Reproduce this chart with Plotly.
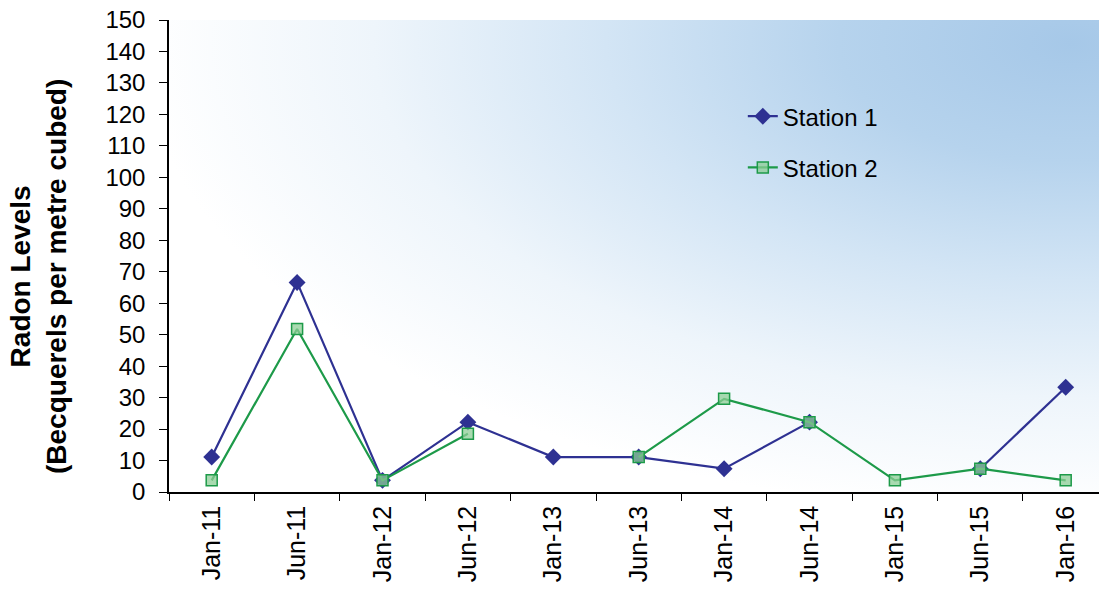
import plotly.graph_objects as go

# Sampling dates and radon readings (Bq/m³) for the two monitoring stations
dates = ["Jan-11", "Jun-11", "Jan-12", "Jun-12", "Jan-13", "Jun-13",
         "Jan-14", "Jun-14", "Jan-15", "Jun-15", "Jan-16"]
station_1 = [11.1, 66.6, 3.7, 22.2, 11.1, 11.1, 7.4, 22.2, None, 7.4, 33.3]
station_2 = [3.7, 51.8, 3.7, 18.5, None, 11.1, 29.6, 22.2, 3.7, 7.4, 3.7]
y_ticks = list(range(0, 151, 10))

FONT = "Arial, Liberation Sans, sans-serif"

# Soft blue glow spreading from the upper-right corner of the plotting area
bg_svg = (
    "data:image/svg+xml;utf8,"
    "<svg xmlns='http://www.w3.org/2000/svg' width='930' height='472' "
    "viewBox='0 0 930 472' preserveAspectRatio='none'>"
    "<defs><radialGradient id='g' cx='0.97' cy='0.05' r='1.0' fx='0.97' fy='0.05'>"
    "<stop offset='0' stop-color='%23a6c8e8'/>"
    "<stop offset='0.25' stop-color='%23b6d3ed'/>"
    "<stop offset='0.5' stop-color='%23d3e5f5'/>"
    "<stop offset='0.75' stop-color='%23eef5fb'/>"
    "<stop offset='1' stop-color='%23ffffff'/>"
    "</radialGradient></defs>"
    "<rect width='930' height='472' fill='url(%23g)'/></svg>"
)

fig = go.Figure()
fig.add_trace(go.Scatter(
    x=dates, y=station_1, name="Station 1", mode="lines+markers",
    line=dict(color="#2e3192", width=2.2),
    marker=dict(symbol="diamond", size=13, color="#2e3192"),
    legendgroup="s1",
))
fig.add_trace(go.Scatter(
    x=dates, y=station_2, name="Station 2", mode="lines+markers",
    line=dict(color="#1d9a49", width=2.2),
    marker=dict(symbol="square", size=11, color="rgba(140,205,150,0.75)",
                line=dict(color="#1d9a49", width=1.5)),
    legendgroup="s2",
))

fig.update_layout(
    width=1099, height=590,
    margin=dict(l=169, r=0, t=20, b=98),
    paper_bgcolor="white",
    plot_bgcolor="rgba(0,0,0,0)",
    font=dict(family=FONT, color="black"),
    images=[dict(source=bg_svg, xref="paper", yref="paper", x=0, y=1,
                 sizex=1, sizey=1, sizing="stretch", layer="below",
                 xanchor="left", yanchor="top")],
    legend=dict(x=0.617, y=0.843, xanchor="left", yanchor="top",
                bgcolor="rgba(0,0,0,0)", font=dict(size=24, family=FONT),
                tracegroupgap=17),
    showlegend=True,
    annotations=[dict(
        text="<b>Radon Levels<br>(Becquerels per metre cubed)</b>",
        xref="paper", yref="paper", x=(38 - 169) / 930, y=(492 - 277) / 472,
        xanchor="center", yanchor="middle", textangle=-90, showarrow=False,
        font=dict(size=28, family=FONT, color="black"),
    )],
)

fig.update_xaxes(
    type="category", range=[-0.5, 10.39],
    tickson="boundaries", ticks="outside", ticklen=7, tickcolor="black",
    showline=True, linecolor="black", linewidth=1.5,
    showgrid=False, zeroline=False,
    tickangle=-90, tickfont=dict(size=25, family=FONT),
    ticklabelstandoff=2,
)
fig.update_yaxes(
    range=[0, 150], tickvals=y_ticks, ticks="outside", ticklen=8,
    tickcolor="black", showline=True, linecolor="black", linewidth=1.5,
    showgrid=False, zeroline=False,
    tickfont=dict(size=24, family=FONT), ticklabelstandoff=9,
)

fig.write_html("out.html")
